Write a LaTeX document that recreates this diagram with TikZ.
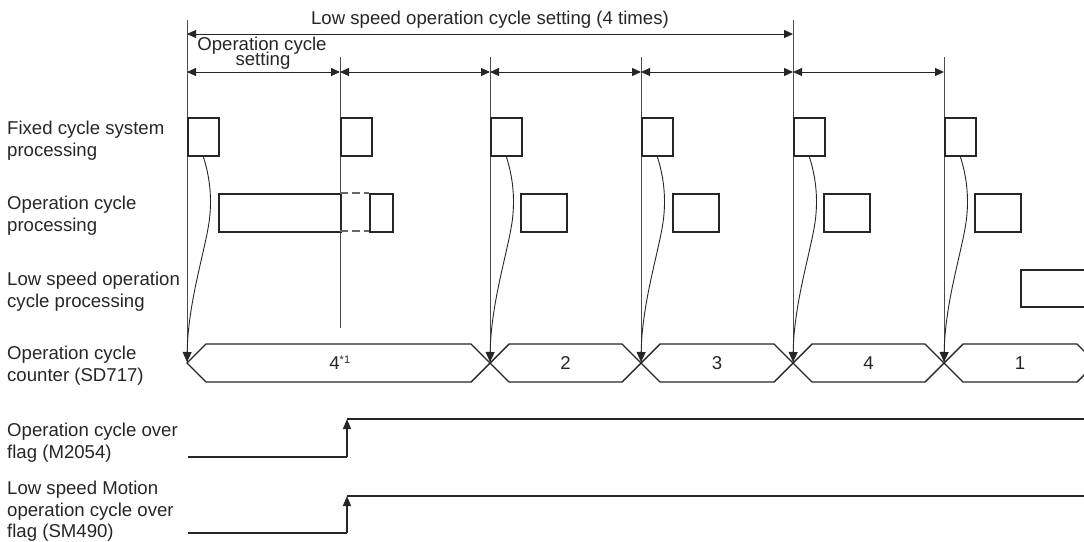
\documentclass[tikz,border=0pt]{standalone}
\usepackage{fontspec}
\setmainfont{Liberation Sans}
\usetikzlibrary{arrows.meta,calc}
\begin{document}
\begin{tikzpicture}[x=1pt,y=-1pt,
  every node/.style={font=\fontsize{18.6}{21.8}\selectfont, inner sep=0pt, text=black!85},
  lbl/.style={anchor=north west, align=left},
  vline/.style={line width=0.9pt, draw=black!70},
  dimarrow/.style={line width=1pt, draw=black!85, {Triangle[length=9pt,width=8pt]}-{Triangle[length=9pt,width=8pt]}},
  fixbox/.style={draw=black!85, line width=1.5pt, minimum width=31pt, minimum height=38pt, anchor=north west},
  opbox/.style={draw=black!85, line width=1.5pt, minimum width=46pt, minimum height=38pt, anchor=north west},
  procbox/.style={draw=black!85, line width=1.5pt},
  curv/.style={line width=0.9pt, draw=black!85, -{Triangle[length=10pt,width=9pt]}},
  hexa/.style={line width=1.4pt, draw=black!85},
  sig/.style={line width=1.4pt, draw=black!85},
  sigarrow/.style={line width=1.4pt, draw=black!85, -{Triangle[length=10pt,width=8pt]}}
]
\useasboundingbox (0,0) rectangle (1084,541);
\clip (0,0) rectangle (1084,541);

% left labels
\node[lbl] (lfix) at (7,120.7) {Fixed cycle system\\processing};
\node[lbl] (lop) at (7,196.2) {Operation cycle\\processing};
\node[lbl] (llow) at (7,271.7) {Low speed operation\\cycle processing};
\node[lbl] (lcnt) at (7,346) {Operation cycle\\counter (SD717)};
\node[lbl] (lflag1) at (7,422.7) {Operation cycle over\\flag (M2054)};
\node[lbl] (lflag2) at (7,480.7) {Low speed Motion\\operation cycle over\\flag (SM490)};

% top labels
\node[anchor=base] (ttl) at (490,24) {Low speed operation cycle setting (4 times)};
\node[anchor=base] (ocs1) at (262,50.5) {Operation cycle};
\node[anchor=base] (ocs2) at (263,65.5) {setting};

% timing coordinates
\coordinate (t1) at (187,20);
\coordinate (t2) at (340,57);
\coordinate (t3) at (490,57);
\coordinate (t4) at (641,57);
\coordinate (t5) at (793,20);
\coordinate (t6) at (944,57);
\coordinate (k1) at (187,362);
\coordinate (k2) at (340,328);
\coordinate (k3) at (490,362);
\coordinate (k4) at (641,362);
\coordinate (k5) at (793,362);
\coordinate (k6) at (944,362);

\foreach \i in {1,...,6} \draw[vline] (t\i) -- (k\i);

% dimension arrows
\coordinate (a0) at (187,34);
\coordinate (a1) at (793,34);
\draw[dimarrow] (a0) -- (a1);
\coordinate (d1) at (187,72);
\coordinate (d2) at (340,72);
\coordinate (d3) at (490,72);
\coordinate (d4) at (641,72);
\coordinate (d5) at (793,72);
\coordinate (d6) at (944,72);
\foreach \i/\j in {1/2,2/3,3/4,4/5,5/6} \draw[dimarrow] (d\i) -- (d\j);

% fixed cycle boxes
\node[fixbox] (f1) at (187,117) {};
\node[fixbox] (f2) at (340,117) {};
\node[fixbox] (f3) at (490,117) {};
\node[fixbox] (f4) at (641,117) {};
\node[fixbox] (f5) at (793,117) {};
\node[fixbox] (f6) at (944,117) {};

% operation cycle boxes
\node[procbox, minimum width=122pt, minimum height=38pt, anchor=north west] (o1) at (218,193) {};
\draw[line width=1.3pt, draw=black!60, dash pattern=on 8pt off 4pt] (340,193) -- (369,193);
\draw[line width=1.3pt, draw=black!60, dash pattern=on 8pt off 4pt] (340,231) -- (369,231);
\node[procbox, minimum width=23pt, minimum height=38pt, anchor=north west] (o1b) at (369,193) {};
\node[opbox] (o3) at (520,193) {};
\node[opbox] (o4) at (672,193) {};
\node[opbox] (o5) at (823,193) {};
\node[opbox] (o6) at (974,193) {};

% low speed box
\node[procbox, minimum width=80pt, minimum height=37pt, anchor=north west] (ls) at (1020,269) {};

% curved arrows
\foreach \i in {1,3,4,5,6}
  \draw[curv] (f\i.south) .. controls +(6.5,20) and +(2,-20) .. ($(f\i.south)+(6.5,60)$)
     .. controls +(-3,30) and +(1,-62) .. (k\i);

% counter hexagons
\foreach \a/\b in {187/490,490/641,641/793,793/944,944/1096}
  \draw[hexa] (\a,363) -- (\a+19,344) -- (\b-19,344) -- (\b,363) -- (\b-19,382) -- (\a+19,382) -- cycle;
\node (n1) at (340,363) {4\textsuperscript{\fontsize{11}{11}\selectfont *1}};
\node (n2) at (565.5,363) {2};
\node (n3) at (717,363) {3};
\node (n4) at (868.5,363) {4};
\node (n5) at (1020,363) {1};

% flags
\coordinate (s1a) at (188,457);
\coordinate (s1b) at (347,457);
\coordinate (s1c) at (347,419);
\coordinate (s1d) at (1084,419);
\draw[sig] (s1a) -- (s1b);
\draw[sigarrow] (s1b) -- (s1c);
\draw[sig] (s1c) -- (s1d);
\coordinate (s2a) at (188,533);
\coordinate (s2b) at (347,533);
\coordinate (s2c) at (347,496);
\coordinate (s2d) at (1084,496);
\draw[sig] (s2a) -- (s2b);
\draw[sigarrow] (s2b) -- (s2c);
\draw[sig] (s2c) -- (s2d);
\end{tikzpicture}
\end{document}
